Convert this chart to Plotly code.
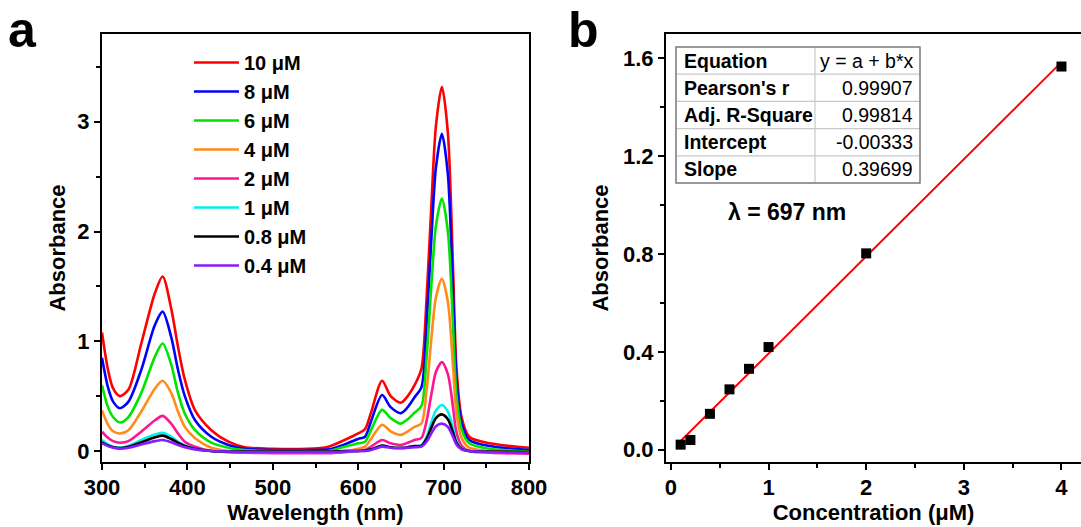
import plotly.graph_objects as go

W, H = 1081, 527

# ---------------- data: panel a (UV-vis spectra) ----------------
wavelength = [300, 307, 313, 321, 331, 346, 362, 371, 381, 389, 397, 409, 428, 448, 467, 500, 540, 565,
              584, 600, 608, 615, 628, 638, 650, 658, 666, 674, 680, 686, 691, 698, 705, 711, 715, 721,
              730, 754, 800]

abs_10uM = [1.08, 0.74, 0.57, 0.50, 0.56, 0.98, 1.44, 1.59, 1.30, 0.95, 0.65, 0.37, 0.19, 0.085, 0.035, 0.02,
            0.02, 0.04, 0.10, 0.16, 0.20, 0.35, 0.64, 0.50, 0.44, 0.50, 0.60, 0.75, 1.38, 2.29, 2.96, 3.32,
            2.90, 1.68, 0.77, 0.31, 0.13, 0.07, 0.03]
abs_8uM = [0.85, 0.58, 0.45, 0.39, 0.45, 0.74, 1.15, 1.27, 1.04, 0.74, 0.50, 0.28, 0.13, 0.055, 0.02, 0.01,
           0.01, 0.015, 0.06, 0.11, 0.13, 0.27, 0.51, 0.40, 0.345, 0.40, 0.49, 0.58, 1.15, 1.98, 2.58, 2.89,
           2.52, 1.45, 0.66, 0.26, 0.10, 0.045, 0.01]
abs_6uM = [0.60, 0.40, 0.31, 0.26, 0.31, 0.53, 0.86, 0.98, 0.79, 0.53, 0.34, 0.19, 0.076, 0.03, 0.01, 0.0,
           0.0, 0.0, 0.04, 0.07, 0.085, 0.19, 0.375, 0.30, 0.25, 0.29, 0.35, 0.41, 0.85, 1.55, 2.05, 2.30,
           2.00, 1.15, 0.52, 0.20, 0.07, 0.02, -0.005]
abs_4uM = [0.37, 0.24, 0.18, 0.16, 0.19, 0.36, 0.57, 0.64, 0.53, 0.36, 0.22, 0.116, 0.03, 0.0, -0.01, -0.015,
           -0.015, -0.01, 0.0, 0.02, 0.04, 0.11, 0.24, 0.18, 0.147, 0.18, 0.22, 0.25, 0.55, 1.05, 1.40, 1.57,
           1.36, 0.78, 0.35, 0.12, 0.03, 0.0, -0.015]
abs_2uM = [0.176, 0.12, 0.09, 0.076, 0.09, 0.176, 0.28, 0.32, 0.25, 0.16, 0.085, 0.04, 0.0, -0.01, -0.015,
           -0.02, -0.02, -0.02, -0.01, 0.0, 0.01, 0.04, 0.10, 0.07, 0.055, 0.075, 0.10, 0.12, 0.27, 0.53, 0.72,
           0.81, 0.70, 0.40, 0.17, 0.05, 0.0, -0.015, -0.025]
abs_1uM = [0.10, 0.06, 0.04, 0.03, 0.045, 0.10, 0.15, 0.167, 0.13, 0.085, 0.05, 0.02, 0.0, -0.005, -0.01,
           -0.01, -0.01, -0.01, -0.005, 0.0, 0.005, 0.015, 0.045, 0.03, 0.025, 0.03, 0.04, 0.05, 0.13, 0.27,
           0.37, 0.42, 0.36, 0.21, 0.09, 0.025, 0.0, -0.01, -0.015]
abs_08uM = [0.08, 0.05, 0.035, 0.028, 0.04, 0.08, 0.125, 0.14, 0.11, 0.075, 0.045, 0.02, 0.0, -0.005, -0.005,
            -0.005, -0.005, -0.005, 0.0, 0.0, 0.005, 0.015, 0.05, 0.035, 0.03, 0.035, 0.045, 0.05, 0.11, 0.22,
            0.30, 0.334, 0.29, 0.17, 0.075, 0.02, 0.0, -0.005, -0.01]
abs_04uM = [0.07, 0.045, 0.03, 0.022, 0.03, 0.06, 0.09, 0.10, 0.08, 0.055, 0.035, 0.015, 0.0, -0.005, -0.01,
            -0.01, -0.01, -0.01, -0.005, 0.0, 0.0, 0.01, 0.04, 0.03, 0.025, 0.03, 0.035, 0.04, 0.085, 0.165,
            0.225, 0.25, 0.22, 0.13, 0.06, 0.015, 0.0, -0.01, -0.015]

series_names = ["10 μM", "8 μM", "6 μM", "4 μM", "2 μM", "1 μM", "0.8 μM", "0.4 μM"]
series_values = [abs_10uM, abs_8uM, abs_6uM, abs_4uM, abs_2uM, abs_1uM, abs_08uM, abs_04uM]
series_colors = ["#ff0000", "#0000ff", "#00e400", "#ff8c1a", "#ff1493", "#00f0f0", "#000000", "#8a1aff"]

# ---------------- data: panel b (calibration) ----------------
conc = [0.1, 0.2, 0.4, 0.6, 0.8, 1.0, 2.0, 4.0]
absorb_697 = [0.021, 0.040, 0.147, 0.247, 0.331, 0.420, 0.803, 1.567]
fit_x = [0.1, 4.0]
fit_y = [0.036, 1.585]

table_labels = ["Equation", "Pearson's r", "Adj. R-Square", "Intercept", "Slope"]
table_values = ["y = a + b*x", "0.99907", "0.99814", "-0.00333", "0.39699"]

FONT = "Liberation Sans, Arial, sans-serif"


def px(x):
    return x / W


def py(y):
    return 1 - y / H


fig = go.Figure()

for name, vals, col in zip(series_names, series_values, series_colors):
    fig.add_trace(go.Scatter(
        x=wavelength, y=vals, mode="lines", name=name,
        line=dict(color=col, width=2.6, shape="spline", smoothing=0.8),
        xaxis="x", yaxis="y", showlegend=True))

fig.add_trace(go.Scatter(
    x=fit_x, y=fit_y, mode="lines", line=dict(color="#ff0000", width=2),
    xaxis="x2", yaxis="y2", showlegend=False))
fig.add_trace(go.Scatter(
    x=conc, y=absorb_697, mode="markers",
    marker=dict(symbol="square", size=10, color="black"),
    xaxis="x2", yaxis="y2", showlegend=False))

ydom = [py(462), py(34)]
axis_common = dict(
    showline=True, linecolor="black", linewidth=2, ticks="outside", ticklen=6, tickwidth=2,
    tickcolor="black", showgrid=False, zeroline=False, automargin=False,
    tickfont=dict(family=FONT, size=22, color="black", weight="bold"),
)
minor_style = dict(ticks="outside", ticklen=4, tickwidth=1.5, tickcolor="black", showgrid=False)
title_font = dict(family=FONT, size=22, weight="bold", color="black")

fig.update_layout(
    width=W, height=H,
    margin=dict(l=0, r=0, t=0, b=0),
    paper_bgcolor="white", plot_bgcolor="white",
    font=dict(family=FONT, color="black"),
    xaxis=dict(domain=[px(102), px(529)], range=[300, 800], dtick=100, anchor="y", mirror=True,
               minor=dict(dtick=50, **minor_style), ticklabelstandoff=-1,
               title=dict(text="Wavelength (nm)", font=title_font, standoff=2),
               **axis_common),
    yaxis=dict(domain=ydom, range=[-0.1, 3.8], dtick=1, anchor="x", mirror=True,
               minor=dict(dtick=0.5, **minor_style),
               title=dict(text="Absorbance", font=title_font, standoff=6),
               **axis_common),
    xaxis2=dict(domain=[px(666), 1.0], range=[-0.05, 4.2], dtick=1, anchor="y2", mirror=True,
                minor=dict(dtick=0.5, **minor_style), ticklabelstandoff=-1,
                title=dict(text="Concentration (μM)", font=title_font, standoff=2),
                **axis_common),
    yaxis2=dict(domain=ydom, range=[-0.05, 1.70], dtick=0.4, tickformat=".1f", anchor="x2", mirror=False,
                minor=dict(dtick=0.2, **minor_style),
                title=dict(text="Absorbance", font=title_font, standoff=8),
                **axis_common),
    legend=dict(x=px(189), y=py(43), xanchor="left", yanchor="top", bgcolor="rgba(0,0,0,0)",
                font=dict(family=FONT, size=20, color="black", weight="bold"),
                itemwidth=45, traceorder="normal"),
)

annotations = [
    dict(text="a", x=px(22), y=py(48), xref="paper", yref="paper", xanchor="center", yanchor="bottom",
         yshift=-12, showarrow=False, font=dict(family=FONT, size=50, weight="bold")),
    dict(text="b", x=px(583), y=py(48), xref="paper", yref="paper", xanchor="center", yanchor="bottom",
         yshift=-12, showarrow=False, font=dict(family=FONT, size=50, weight="bold")),
    dict(text="λ = 697 nm", x=px(787), y=py(212), xref="paper", yref="paper", xanchor="center",
         yanchor="middle", showarrow=False, font=dict(family=FONT, size=23, weight="bold")),
]

# table in panel b
t_left, t_right, t_mid, t_top, row_h = 676, 920, 815, 47, 27.2
shapes = []
nrows = len(table_labels)
for i in range(1, nrows):
    yy = t_top + i * row_h
    shapes.append(dict(type="line", xref="paper", yref="paper", x0=px(t_left), x1=px(t_right),
                       y0=py(yy), y1=py(yy), line=dict(color="#c8c8c8", width=1.2)))
shapes.append(dict(type="line", xref="paper", yref="paper", x0=px(t_mid), x1=px(t_mid),
                   y0=py(t_top), y1=py(t_top + nrows * row_h), line=dict(color="#c8c8c8", width=1.2)))
shapes.append(dict(type="rect", xref="paper", yref="paper", x0=px(t_left), x1=px(t_right),
                   y0=py(t_top + nrows * row_h), y1=py(t_top), line=dict(color="#7a7a7a", width=1.5),
                   fillcolor="rgba(0,0,0,0)"))
for i, (lab, val) in enumerate(zip(table_labels, table_values)):
    yc = t_top + (i + 0.5) * row_h
    annotations.append(dict(text=lab, x=px(t_left + 6), y=py(yc), xref="paper", yref="paper",
                            xanchor="left", yanchor="middle", showarrow=False,
                            font=dict(family=FONT, size=19.5, weight="bold")))
    annotations.append(dict(text=val, x=px(t_right - 5), y=py(yc), xref="paper", yref="paper",
                            xanchor="right", yanchor="middle", showarrow=False,
                            font=dict(family=FONT, size=19.5)))

fig.update_layout(annotations=annotations, shapes=shapes)

fig.write_html("out.html")
